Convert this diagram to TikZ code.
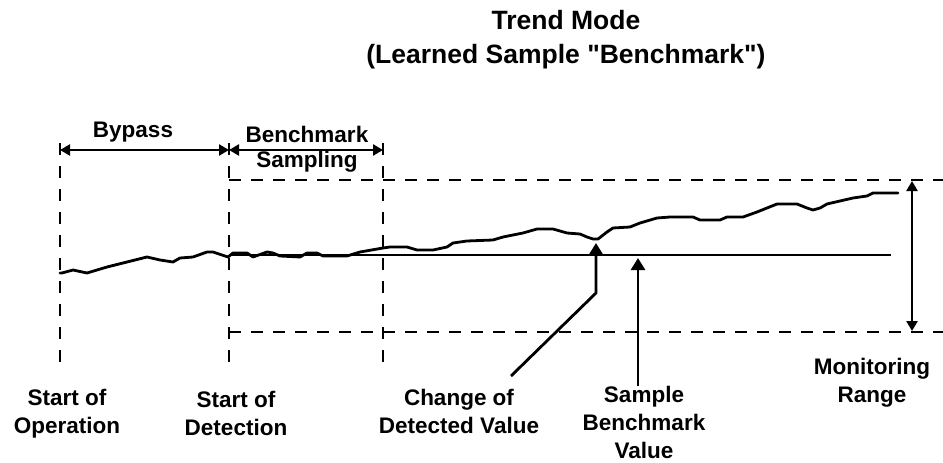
\documentclass[tikz,border=0pt]{standalone}
\usepackage{fontspec}
\setmainfont{Liberation Sans}
\usetikzlibrary{arrows.meta}
\begin{document}
\begin{tikzpicture}[x=1pt,y=-1pt,
  lbl/.style={font=\fontsize{22.5}{28}\selectfont\bfseries, align=center, anchor=base, inner sep=0pt},
  ttl/.style={font=\fontsize{26.5}{24}\selectfont\bfseries, anchor=base, inner sep=0pt},
  vdash/.style={line width=1.4pt, dash pattern=on 12pt off 11pt},
  hdash/.style={line width=1.4pt, dash pattern=on 12pt off 10pt},
  span/.style={line width=2.6pt, {Triangle[length=10pt,width=11pt]}-{Triangle[length=10pt,width=11pt]}},
  pointer/.style={line width=2.8pt, -{Triangle[length=12pt,width=14pt]}},
  curve/.style={line width=2.8pt, line join=round, line cap=round},
  bench/.style={line width=1.4pt}]
\useasboundingbox (0,0) rectangle (943,463);
% titles
\node[ttl] (t1) at (566,30) {Trend Mode};
\node[ttl] (t2) at (566,63) {(Learned Sample \textquotedbl Benchmark\textquotedbl)};
% coordinates
\coordinate (op1) at (60,143); \coordinate (op2) at (60,372);
\coordinate (de1) at (229,143); \coordinate (de2) at (229,372);
\coordinate (sa1) at (383,143); \coordinate (sa2) at (383,372);
\coordinate (tl) at (229,180); \coordinate (tr) at (943,180);
\coordinate (bl) at (229,332); \coordinate (br) at (943,332);
\coordinate (b1) at (229,255); \coordinate (b2) at (891,255);
\coordinate (ba) at (60,150); \coordinate (bb) at (229,150); \coordinate (bc) at (383,150);
\coordinate (m1) at (912,331); \coordinate (m2) at (912,181);
\coordinate (c0) at (511,376); \coordinate (c1) at (596,293); \coordinate (c2) at (596,243);
\coordinate (s0) at (638,386); \coordinate (s1) at (638,258);
% dashed lines
\draw[vdash] (op1) -- (op2);
\draw[vdash] (de1) -- (de2);
\draw[vdash] (sa1) -- (sa2);
\draw[hdash] (tl) -- (tr);
\draw[hdash] (bl) -- (br);
% spans
\draw[span] (ba) -- (bb);
\draw[span] (bb) -- (bc);
\draw[span] (m1) -- (m2);
\node[lbl] (bypass) at (133,137) {Bypass};
\node[lbl] (bsamp) at (307,167) {Benchmark\\[-3pt]Sampling};
% benchmark line
\draw[bench] (b1) -- (b2);
% detected value curve
\draw[curve] (60,273) -- (62,273) -- (73,270) -- (87,273) -- (107,267) -- (127,262) -- (147,257) -- (160,260) -- (173,262) -- (180,258) -- (193,257) -- (207,252) -- (213,252) -- (228,257) -- (233,253) -- (247,253) -- (253,257) -- (267,252) -- (273,253) -- (280,256) -- (300,257) -- (307,253) -- (317,253) -- (323,256) -- (347,256) -- (360,252) -- (383,248) -- (390,247) -- (407,247) -- (417,250) -- (433,250) -- (447,247) -- (453,243) -- (467,241) -- (493,240) -- (503,237) -- (523,233) -- (537,229) -- (553,229) -- (567,233) -- (580,234) -- (587,237) -- (593,239) -- (598,239) -- (607,232) -- (613,228) -- (630,227) -- (640,223) -- (657,218) -- (670,217) -- (693,217) -- (700,220) -- (720,220) -- (727,217) -- (743,217) -- (757,212) -- (767,208) -- (777,204) -- (797,204) -- (807,208) -- (813,210) -- (820,208) -- (827,204) -- (840,201) -- (853,198) -- (867,196) -- (873,193) -- (898,193);
% pointers
\draw[pointer, line join=miter] (c0) -- (c1) -- (c2);
\draw[pointer] (s0) -- (s1);
% labels
\node[lbl] (lop) at (67,433) {Start of\\Operation};
\node[lbl] (lde) at (236,435) {Start of\\Detection};
\node[lbl] (lch) at (459,433) {Change of\\Detected Value};
\node[lbl] (lsb) at (644,458) {Sample\\Benchmark\\Value};
\node[lbl] (lmr) at (872,402) {Monitoring\\Range};
\end{tikzpicture}
\end{document}
